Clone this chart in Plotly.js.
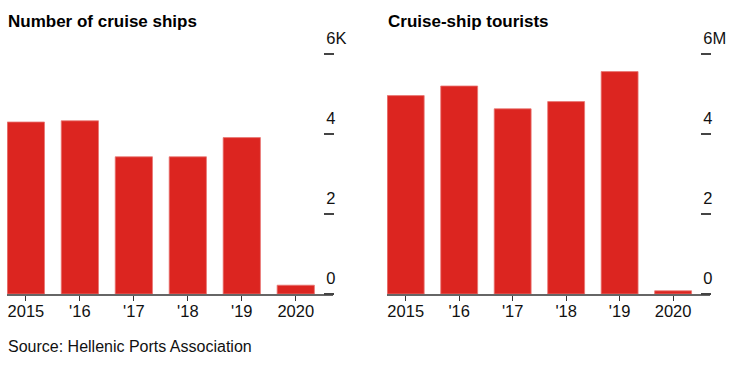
<!DOCTYPE html>
<html>
<head>
<meta charset="utf-8">
<script src="https://cdn.plot.ly/plotly-3.0.1.min.js"></script>
<style>html,body{margin:0;padding:0;background:#fff;}#chart{width:732px;height:365px;}</style>
</head>
<body>
<div id="chart"></div>
<script>
// Data
const years = ['2015', "'16", "'17", "'18", "'19", '2020'];
const cruiseShips = [4.30, 4.33, 3.43, 3.43, 3.91, 0.22];      // thousands
const cruiseTourists = [4.96, 5.20, 4.63, 4.81, 5.56, 0.08];   // millions
const yTickVals = [0, 2, 4, 6];
const shipTickText = ['0', '2', '4', '6K'];
const touristTickText = ['0', '2', '4', '6M'];
const title1 = 'Number of cruise ships';
const title2 = 'Cruise-ship tourists';
const sourceText = 'Source: Hellenic Ports Association';

const W = 732, H = 365;
const FONT = 'Liberation Sans, Arial, Helvetica, sans-serif';
const RED = '#dc2520';

function bar(x, y, xa, ya) {
  return {
    type: 'bar', x: x, y: y, xaxis: xa, yaxis: ya,
    marker: {color: RED, line: {color: '#e87673', width: 0.8}},
    hoverinfo: 'x+y', showlegend: false
  };
}

const yDomain = [(H - 294) / H, (H - 44) / H];
const yRange = [0, 6.25];

function xAxis(domain, anchor) {
  return {
    domain: domain, anchor: anchor, type: 'category',
    categoryorder: 'array', categoryarray: years,
    range: [-0.35, 5.69],
    showline: true, linecolor: '#666', linewidth: 1.5,
    ticks: 'outside', ticklen: 5, tickcolor: '#333', tickwidth: 1,
    ticklabelstandoff: -3,
    tickfont: {family: FONT, size: 16.5, color: '#111'},
    showgrid: false, zeroline: false, fixedrange: true
  };
}
function yAxis(pos, ticktext) {
  return {
    domain: yDomain, range: yRange, anchor: 'free', position: pos, side: 'right',
    tickmode: 'array', tickvals: yTickVals, ticktext: ticktext,
    ticks: 'outside', ticklen: 10, tickcolor: '#444', tickwidth: 1.5,
    ticklabelposition: 'outside top', ticklabelshift: -3, ticklabelstandoff: -1,
    tickfont: {family: FONT, size: 16.5, color: '#111'},
    showgrid: false, zeroline: false, showline: false, fixedrange: true
  };
}

const data = [
  bar(years, cruiseShips, 'x', 'y'),
  bar(years, cruiseTourists, 'x2', 'y2')
];

const layout = {
  width: W, height: H,
  margin: {l: 0, r: 0, t: 0, b: 0},
  paper_bgcolor: '#fff', plot_bgcolor: 'rgba(0,0,0,0)',
  bargap: 0.31,
  font: {family: FONT, color: '#111'},
  xaxis: xAxis([7 / W, 333 / W], 'y'),
  yaxis: yAxis(323 / W, shipTickText),
  xaxis2: xAxis([387 / W, 710 / W], 'y2'),
  yaxis2: yAxis(700 / W, touristTickText),
  annotations: [
    {text: '<b>' + title1 + '</b>', xref: 'paper', yref: 'paper', x: 6 / W, y: 1 - 22 / H,
     xanchor: 'left', yanchor: 'middle', showarrow: false, font: {family: FONT, size: 17, color: '#000'}},
    {text: '<b>' + title2 + '</b>', xref: 'paper', yref: 'paper', x: 386 / W, y: 1 - 22 / H,
     xanchor: 'left', yanchor: 'middle', showarrow: false, font: {family: FONT, size: 17, color: '#000'}},
    {text: sourceText, xref: 'paper', yref: 'paper', x: 6 / W, y: 1 - 346 / H,
     xanchor: 'left', yanchor: 'middle', showarrow: false, font: {family: FONT, size: 16, color: '#111'}}
  ]
};

Plotly.newPlot('chart', data, layout, {displayModeBar: false, staticPlot: true});
</script>
</body>
</html>
